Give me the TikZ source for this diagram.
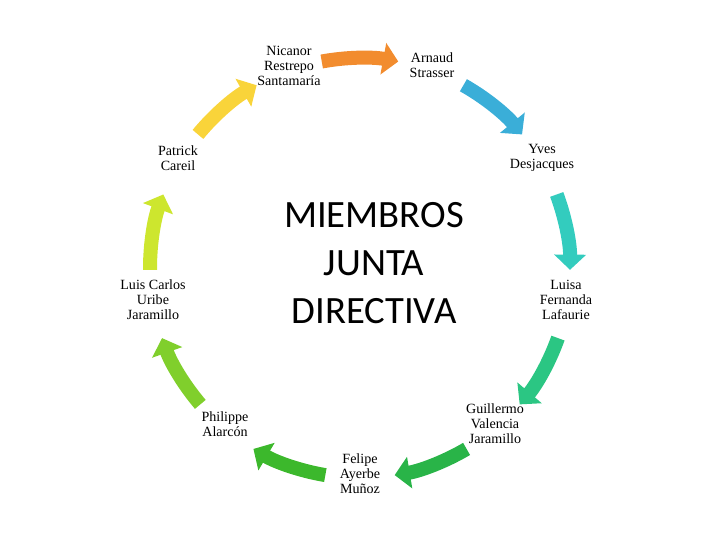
\documentclass[tikz,border=0pt]{standalone}
\usepackage{fontspec}
\setmainfont{Liberation Serif}
\newfontfamily\titlefont{Carlito}
\usetikzlibrary{arrows.meta}
\definecolor{CycleOrange}{HTML}{F28C2E}
\definecolor{CycleBlue}{HTML}{3AAED8}
\definecolor{CycleTeal}{HTML}{33CCBE}
\definecolor{CycleSea}{HTML}{2BC683}
\definecolor{CycleGreen}{HTML}{29B448}
\definecolor{CycleGrass}{HTML}{3CB82C}
\definecolor{CycleLeaf}{HTML}{80CF2C}
\definecolor{CycleLime}{HTML}{CDE62E}
\definecolor{CycleYellow}{HTML}{F9D43A}
\tikzset{
  member/.style={align=center, inner sep=1pt, font=\fontsize{10}{10.7}\selectfont},
  title/.style={align=center, font=\titlefont\fontsize{27.5}{34}\selectfont},
  cyclearrow/.style={line width=0.35cm, -{Triangle[width=0.78cm,length=0.38cm]}},
}

\begin{document}
\begin{tikzpicture}[x=0.025cm,y=0.025cm]
  \useasboundingbox (0,0) rectangle (720,540);
  \coordinate (c) at (360,272);
  \node[title] (title) at (374,277) {MIEMBROS\\JUNTA\\DIRECTIVA};
  % members round the circle
  \foreach \name/\pos/\txt in {
      nicanor/{289,474}/{Nicanor\\Restrepo\\Santamaría},
      arnaud/{432,475}/{Arnaud\\Strasser},
      yves/{542,382}/{Yves\\Desjacques},
      luisa/{566,240}/{Luisa\\Fernanda\\Lafaurie},
      guillermo/{495,116}/{Guillermo\\Valencia\\Jaramillo},
      felipe/{360,66}/{Felipe\\Ayerbe\\Muñoz},
      philippe/{225,116}/{Philippe\\Alarcón},
      luiscarlos/{153,240}/{Luis Carlos\\Uribe\\Jaramillo},
      patrick/{178,382}/{Patrick\\Careil}}
    \node[member] (\name) at (\pos) {\txt};
  % curved arrows, clockwise
  \foreach \a/\col [count=\i] in {90/CycleOrange, 50/CycleBlue, 10/CycleTeal,
      -30/CycleSea, -70/CycleGreen, -110/CycleGrass, -150/CycleLeaf,
      170/CycleLime, 130/CycleYellow}{
    \coordinate (tail\i) at ([shift={(\a+10.5:210)}]c);
    \draw[cyclearrow,\col] (tail\i) arc[start angle=\a+10.5, end angle=\a-10.5, radius=210];
  }
\end{tikzpicture}
\end{document}
